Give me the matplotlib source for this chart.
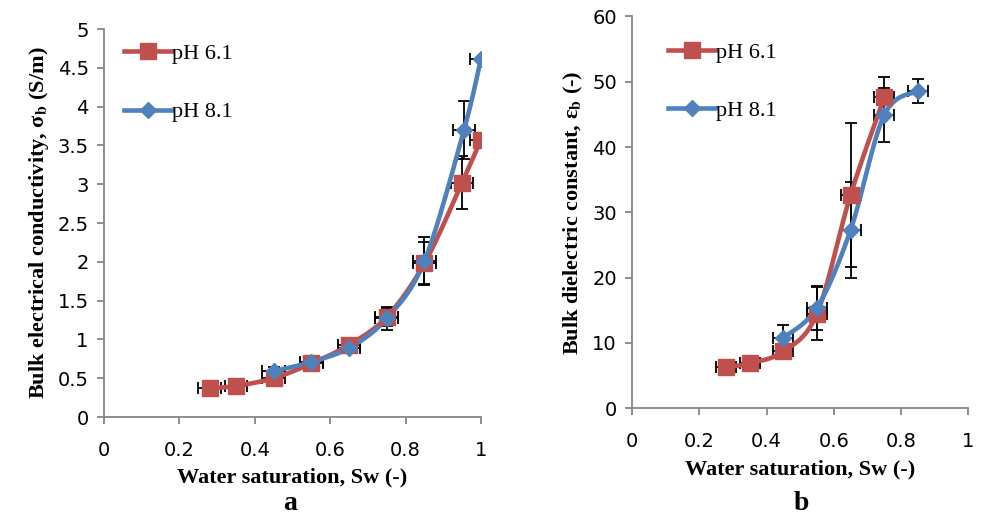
import numpy as np
import matplotlib
matplotlib.use("Agg")
import matplotlib.pyplot as plt

plt.rcParams['font.family'] = ['Liberation Serif', 'DejaVu Serif']
plt.rcParams['mathtext.fontset'] = 'stix'

RED = '#C0504D'
BLUE = '#4F81BD'
SPINE = '#868686'

# panel a: bulk electrical conductivity
sw_a_61 = [0.28, 0.35, 0.45, 0.55, 0.65, 0.75, 0.85, 0.95, 1.0]
sig_61 = [0.37, 0.40, 0.50, 0.69, 0.93, 1.29, 1.98, 3.02, 3.57]
sig_61_err = [0.0, 0.02, 0.05, 0.05, 0.06, 0.12, 0.27, 0.34, 0.0]

sw_a_81 = [0.45, 0.55, 0.65, 0.75, 0.85, 0.955, 1.0]
sig_81 = [0.59, 0.71, 0.89, 1.27, 2.01, 3.70, 4.62]
sig_81_err = [0.05, 0.05, 0.06, 0.15, 0.31, 0.37, 0.0]

# panel b: bulk dielectric constant
sw_b_61 = [0.28, 0.35, 0.45, 0.55, 0.65, 0.75]
eps_61 = [6.3, 6.9, 8.7, 14.5, 32.7, 47.6]
eps_61_err = [0.0, 0.3, 0.8, 4.0, 11.0, 3.2]

sw_b_81 = [0.45, 0.55, 0.65, 0.75, 0.85]
eps_81 = [10.8, 15.4, 27.3, 44.9, 48.6]
eps_81_err = [2.0, 3.4, 7.4, 4.2, 1.8]

sw_err = 0.03


def smooth(ax, x, y, xr, yr, n=30):
    # Excel-like smoothed line (cubic bezier with 1/6 tangents), in axes-pixel space
    bb = ax.get_position()
    sx = bb.width / (xr[1] - xr[0])
    sy = bb.height * 0.528 / (yr[1] - yr[0])
    p = np.column_stack([(np.array(x) - xr[0]) * sx, (np.array(y) - yr[0]) * sy])
    pts = []
    for i in range(len(p) - 1):
        p0 = p[i - 1] if i > 0 else p[i]
        p1, p2 = p[i], p[i + 1]
        p3 = p[i + 2] if i + 2 < len(p) else p[i + 1]
        c1 = p1 + (p2 - p0) / 6
        c2 = p2 - (p3 - p1) / 6
        t = np.linspace(0, 1, n)[:, None]
        seg = (1 - t) ** 3 * p1 + 3 * (1 - t) ** 2 * t * c1 + 3 * (1 - t) * t ** 2 * c2 + t ** 3 * p2
        pts.append(seg)
    pts = np.vstack(pts)
    return pts[:, 0] / sx + xr[0], pts[:, 1] / sy + yr[0]


fig = plt.figure(figsize=(9.83, 5.19), dpi=100)
ax1 = fig.add_axes([0.1058, 0.1965, 0.3835, 0.7476])
ax2 = fig.add_axes([0.643, 0.2133, 0.342, 0.755])

tick_font = dict(family=['Liberation Sans Narrow', 'DejaVu Sans'], size=14)


def draw(ax, xr, yr, series, ylabel, yticks, yfmt, leg_anchor):
    for x, y, e, color, marker, ms, label in series:
        ax.errorbar(x, y, yerr=e, xerr=sw_err, fmt='none', ecolor='black',
                    elinewidth=1.3, capsize=4, capthick=1.3, zorder=2)
    for x, y, e, color, marker, ms, label in series:
        xs, ys = smooth(ax, x, y, xr, yr)
        ax.plot(xs, ys, color=color, lw=3.3, zorder=3, solid_capstyle='round')
        ax.plot(x, y, linestyle='none', marker=marker, ms=ms, color=color, zorder=4)
        ax.plot([], [], color=color, lw=3.3, marker=marker, ms=ms, label=label)
    ax.set_xlim(*xr)
    ax.set_ylim(*yr)
    ax.set_xticks(np.arange(0, 1.01, 0.2))
    ax.set_xticklabels(['0', '0.2', '0.4', '0.6', '0.8', '1'], **tick_font)
    ax.set_yticks(yticks)
    ax.set_yticklabels([yfmt(v) for v in yticks], **tick_font)
    for s in ['top', 'right']:
        ax.spines[s].set_visible(False)
    for s in ['left', 'bottom']:
        ax.spines[s].set_color(SPINE)
        ax.spines[s].set_linewidth(1.3)
    ax.tick_params(direction='out', length=5, width=1.3, color=SPINE, pad=6)
    ax.tick_params(axis='x', pad=12)
    ax.set_xlabel('Water saturation, Sw (-)', fontsize=16, fontweight='bold', labelpad=6)
    ax.set_ylabel(ylabel, fontsize=16, fontweight='bold', labelpad=5)
    ax.patch.set_visible(False)
    ax.legend(loc='upper left', bbox_to_anchor=leg_anchor, frameon=False,
              handlelength=2.15, handletextpad=0.0, labelspacing=1.7,
              prop=dict(family='Liberation Serif', size=16))


draw(ax1, (0, 1), (0, 5),
     [(sw_a_61, sig_61, sig_61_err, RED, 's', 12, 'pH 6.1'),
      (sw_a_81, sig_81, sig_81_err, BLUE, 'D', 8.5, 'pH 8.1')],
     r'Bulk electrical conductivity, σ$_{\mathbf{b}}$ (S/m)',
     np.arange(0, 5.01, 0.5), lambda v: f'{v:g}', (0.0, 1.014))

draw(ax2, (0, 1), (0, 60),
     [(sw_b_61, eps_61, eps_61_err, RED, 's', 12, 'pH 6.1'),
      (sw_b_81, eps_81, eps_81_err, BLUE, 'D', 8.5, 'pH 8.1')],
     r'Bulk dielectric constant, ε$_{\mathbf{b}}$ (-)',
     np.arange(0, 60.1, 10), lambda v: f'{v:g}', (0.048, 0.985))

fig.text(0.295, 0.006, 'a', fontsize=20, fontweight='bold', ha='center', va='bottom')
fig.text(0.815, 0.006, 'b', fontsize=20, fontweight='bold', ha='center', va='bottom')

fig.savefig('out.png', dpi=100)
